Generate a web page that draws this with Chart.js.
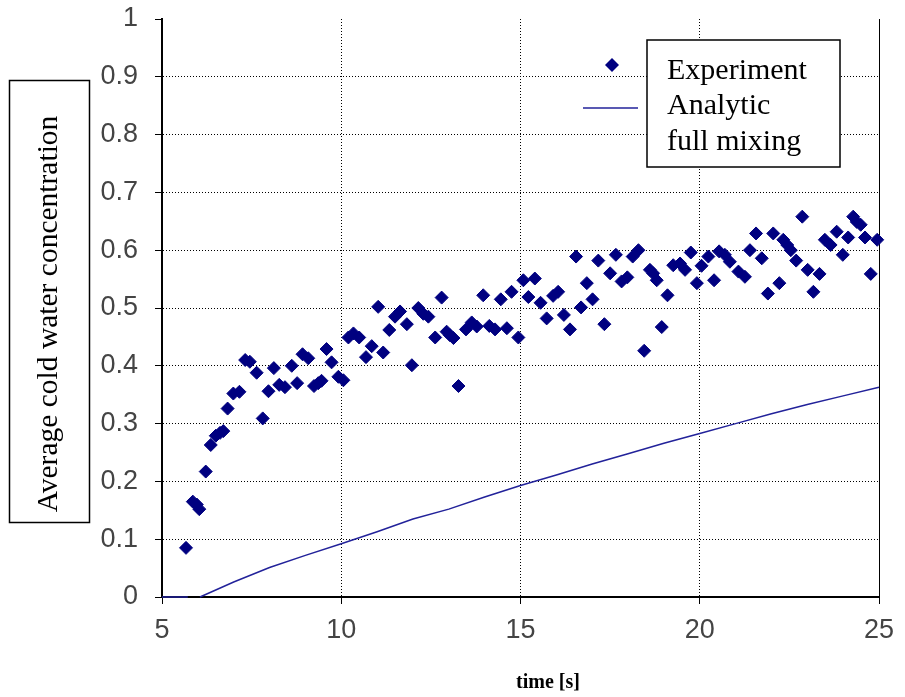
<!DOCTYPE html>
<html>
<head>
<meta charset="utf-8">
<script src="https://cdn.jsdelivr.net/npm/chart.js@4"></script>
<style>
  body { margin: 0; background: #fff; }
  #wrap { width: 905px; height: 697px; position: relative; }
</style>
</head>
<body>
<div id="wrap"><canvas id="chart"></canvas></div>
<script>
// experiment: time [s] and average cold water concentration
const expTime = [5.67, 5.86, 5.97, 6.04, 6.22, 6.36, 6.5, 6.62, 6.71, 6.83, 6.99, 7.16, 7.32, 7.45, 7.64, 7.81, 7.97, 8.12, 8.27, 8.43,
	8.62, 8.77, 8.92, 9.08, 9.24, 9.36, 9.45, 9.59, 9.73, 9.92, 10.06, 10.2, 10.34, 10.5, 10.69, 10.85, 11.03, 11.17, 11.34, 11.5,
	11.64, 11.83, 11.97, 12.15, 12.29, 12.43, 12.62, 12.8, 12.94, 13.03, 13.13, 13.27, 13.48, 13.64, 13.78, 13.96, 14.13, 14.29, 14.45, 14.62,
	14.75, 14.94, 15.08, 15.22, 15.4, 15.56, 15.73, 15.91, 16.05, 16.21, 16.38, 16.55, 16.69, 16.85, 17.01, 17.17, 17.34, 17.5, 17.66, 17.82,
	17.98, 18.13, 18.29, 18.45, 18.61, 18.7, 18.8, 18.94, 19.1, 19.26, 19.45, 19.59, 19.75, 19.92, 20.05, 20.24, 20.4, 20.54, 20.7, 20.84,
	21.08, 21.26, 21.4, 21.57, 21.73, 21.9, 22.05, 22.22, 22.33, 22.44, 22.54, 22.69, 22.86, 23.01, 23.17, 23.34, 23.49, 23.65, 23.82, 23.99,
	24.14, 24.28, 24.38, 24.49, 24.61, 24.77, 24.95]
const expConc = [0.085, 0.165, 0.16, 0.152, 0.217, 0.263, 0.279, 0.284, 0.287, 0.326, 0.352, 0.355, 0.41, 0.407, 0.388, 0.309, 0.356, 0.396, 0.367, 0.363,
	0.4, 0.37, 0.42, 0.413, 0.365, 0.37, 0.374, 0.429, 0.406, 0.381, 0.375, 0.449, 0.456, 0.449, 0.415, 0.434, 0.502, 0.423, 0.462, 0.485,
	0.494, 0.472, 0.401, 0.5, 0.49, 0.485, 0.449, 0.518, 0.459, 0.453, 0.448, 0.365, 0.463, 0.475, 0.468, 0.522, 0.469, 0.463, 0.515, 0.465,
	0.528, 0.449, 0.548, 0.519, 0.551, 0.509, 0.482, 0.521, 0.528, 0.488, 0.463, 0.589, 0.501, 0.543, 0.515, 0.582, 0.472, 0.56, 0.592, 0.546,
	0.553, 0.589, 0.6, 0.426, 0.566, 0.56, 0.548, 0.467, 0.522, 0.574, 0.577, 0.566, 0.596, 0.543, 0.573, 0.589, 0.548, 0.598, 0.592, 0.58,
	0.563, 0.554, 0.6, 0.629, 0.586, 0.525, 0.629, 0.543, 0.618, 0.609, 0.6, 0.582, 0.658, 0.566, 0.528, 0.559, 0.618, 0.609, 0.632, 0.592,
	0.622, 0.658, 0.649, 0.644, 0.622, 0.559, 0.618]

// analytic solution, full mixing
const fitTime = [5, 5.72, 5.9, 6.06, 7, 8, 9, 10, 11, 12, 13, 14, 15, 16, 17, 18, 19, 20, 21, 22, 23, 24, 25]
const fitConc = [0, 0, null, 0, 0.026, 0.051, 0.072, 0.092, 0.113, 0.135, 0.152, 0.173, 0.193, 0.211, 0.23, 0.248, 0.266, 0.283, 0.3, 0.317, 0.333, 0.348, 0.363]

const legendLabels = ['Experiment', 'Analytic', 'full mixing']
const yTitle = 'Average cold water concentration'
const xTitle = 'time [s]'

const pointColor = '#000080'
const lineColor = '#22229a'

const extras = {
	id: 'extras',
	afterDraw(chart) {
		const ctx = chart.ctx
		ctx.save()
		// y axis title in a box
		ctx.lineWidth = 1.5
		ctx.strokeStyle = '#000'
		ctx.strokeRect(9.5, 80.5, 80, 442)
		ctx.fillStyle = '#000'
		ctx.font = '29.5px "Liberation Serif"'
		ctx.textAlign = 'center'
		ctx.textBaseline = 'alphabetic'
		ctx.translate(57, 314)
		ctx.rotate(-Math.PI / 2)
		ctx.fillText(yTitle, 0, 0)
		ctx.restore()

		ctx.save()
		ctx.fillStyle = '#000'
		ctx.font = 'bold 20px "Liberation Serif"'
		ctx.textAlign = 'center'
		ctx.fillText(xTitle, 548, 688)

		// legend
		ctx.fillStyle = '#fff'
		ctx.fillRect(647, 40, 193, 127)
		ctx.lineWidth = 1.5
		ctx.strokeStyle = '#000'
		ctx.strokeRect(647, 40, 193, 127)
		ctx.fillStyle = pointColor
		ctx.beginPath()
		ctx.moveTo(612, 58); ctx.lineTo(619, 65); ctx.lineTo(612, 72); ctx.lineTo(605, 65); ctx.closePath()
		ctx.fill()
		ctx.strokeStyle = lineColor
		ctx.lineWidth = 1.5
		ctx.beginPath()
		ctx.moveTo(583, 108); ctx.lineTo(638, 108)
		ctx.stroke()
		ctx.fillStyle = '#000'
		ctx.font = '30px "Liberation Serif"'
		ctx.textAlign = 'left'
		ctx.fillText(legendLabels[0], 667, 79)
		ctx.fillText(legendLabels[1], 667, 114)
		ctx.fillText(legendLabels[2], 667, 150)
		ctx.restore()
	},
}

new Chart(document.getElementById('chart'), {
	type: 'scatter',
	data: {
		datasets: [
			{
				label: 'Experiment',
				data: expTime.map((t, i) => ({ x: t, y: expConc[i] })),
				pointStyle: 'rectRot',
				pointRadius: 6.5,
				pointBackgroundColor: pointColor,
				pointBorderColor: pointColor,
				pointBorderWidth: 1,
				showLine: false,
				clip: false,
			},
			{
				label: 'Analytic full mixing',
				data: fitTime.map((t, i) => ({ x: t, y: fitConc[i] })),
				showLine: true,
				spanGaps: false,
				borderColor: lineColor,
				borderWidth: 1.5,
				pointRadius: 0,
				clip: false,
			},
		],
	},
	options: {
		responsive: true,
		maintainAspectRatio: false,
		animation: false,
		layout: { padding: { top: 19, right: 26, left: 0, bottom: 0 } },
		plugins: { legend: { display: false }, tooltip: { enabled: false } },
		scales: {
			x: {
				min: 5,
				max: 25,
				afterFit: s => {
					s.height = 100
					s.paddingLeft = 0
					s.paddingRight = 0
				},
				ticks: {
					stepSize: 5,
					color: '#444',
					padding: 10,
					font: { family: '"Liberation Sans"', size: 27 },
				},
				grid: {
					color: ctx => (ctx.tick && ctx.tick.value === 5 ? 'transparent' : '#000'),
					tickColor: '#000',
					tickLength: 7,
					lineWidth: 1,
				},
				border: {
					color: '#000',
					width: 2,
					dash: ctx => (ctx.tick && ctx.tick.value === 25 ? [] : [1, 2]),
				},
			},
			y: {
				min: 0,
				max: 1,
				afterFit: s => {
					s.width = 162
					s.paddingTop = 0
					s.paddingBottom = 0
				},
				ticks: {
					stepSize: 0.1,
					color: '#444',
					padding: 17,
					font: { family: '"Liberation Sans"', size: 27 },
					callback: v => String(Number(v.toFixed(1))),
				},
				grid: {
					color: ctx => (ctx.tick && (ctx.tick.value > 0.95 || ctx.tick.value < 0.05) ? 'transparent' : '#000'),
					tickColor: '#000',
					tickLength: 7,
					lineWidth: 1,
				},
				border: { color: '#000', width: 2, dash: [1, 2] },
			},
		},
	},
	plugins: [extras],
})
</script>
</body>
</html>
